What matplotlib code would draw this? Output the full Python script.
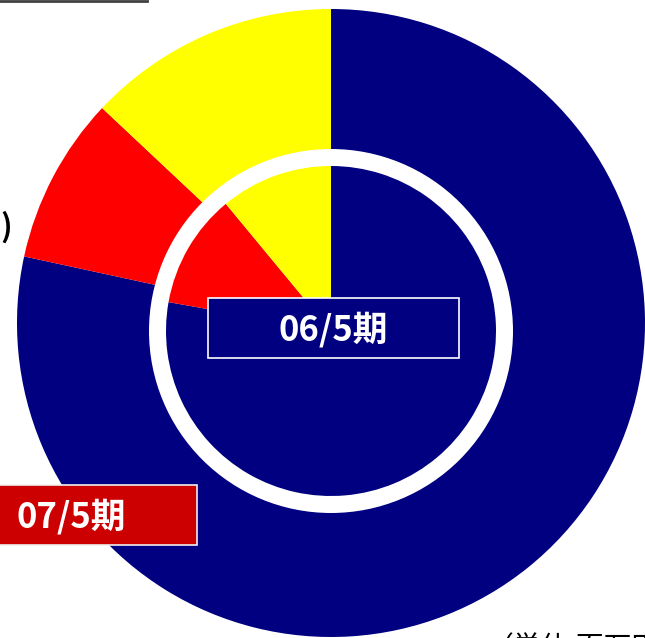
import numpy as np
import matplotlib
matplotlib.use('Agg')
from matplotlib import pyplot as plt
from matplotlib.patches import Circle, Rectangle

plt.rcParams['font.family'] = ['Noto Sans CJK JP', 'DejaVu Sans']

# share of each segment (%)
segments = ['navy', 'red', 'yellow']
colors = ['#000080', '#FF0000', '#FFFF00']
share_07 = [78.4, 8.6, 13.0]    # outer pie, 07/5期
share_06 = [77.8, 11.2, 11.0]   # inner pie, 06/5期
label_07 = '07/5期'
label_06 = '06/5期'
unit_text = '（単位:百万円）'

W, H = 645, 638
fig = plt.figure(figsize=(W/100, H/100), dpi=100)
ax = fig.add_axes([0, 0, 1, 1])

# outer pie (07/5期)
ax.pie(share_07, colors=colors, startangle=90, counterclock=False,
       center=(331, H-323), radius=314,
       wedgeprops=dict(linewidth=0))
# white ring around the inner pie
ax.add_patch(Circle((331, H-331), 182, facecolor='white', edgecolor='none', zorder=2))
# inner pie (06/5期)
wed, _ = ax.pie(share_06, colors=colors, startangle=90, counterclock=False,
                center=(331, H-331), radius=165,
                wedgeprops=dict(linewidth=0))
for w in wed:
    w.set_zorder(3)

# label boxes
ax.add_patch(Rectangle((208, H-358), 251, 60, facecolor='#000080',
                       edgecolor='white', linewidth=1.2, zorder=4))
ax.text(333.5, H-330, label_06, color='white', fontsize=25, fontweight='bold',
        ha='center', va='center', zorder=5)
ax.add_patch(Rectangle((-54, H-545), 251, 60, facecolor='#CC0000',
                       edgecolor='#f0f0f0', linewidth=1.2, zorder=4))
ax.text(71.5, H-517, label_07, color='white', fontsize=25, fontweight='bold',
        ha='center', va='center', zorder=5)

# bits of the neighbouring chart that are cut off
ax.plot([0, 147], [H-0.5, H-0.5], color='#404040', linewidth=2, zorder=5)
ax.text(0, H-227, ')', fontsize=22, color='black', ha='left', va='center',
        fontweight='bold')
ax.text(486, H-633, unit_text, fontsize=20, color='black', ha='left', va='top')

ax.set_xlim(0, W)
ax.set_ylim(0, H)
ax.set_aspect('equal')
ax.set_axis_off()

fig.savefig('out.png', dpi=100)
